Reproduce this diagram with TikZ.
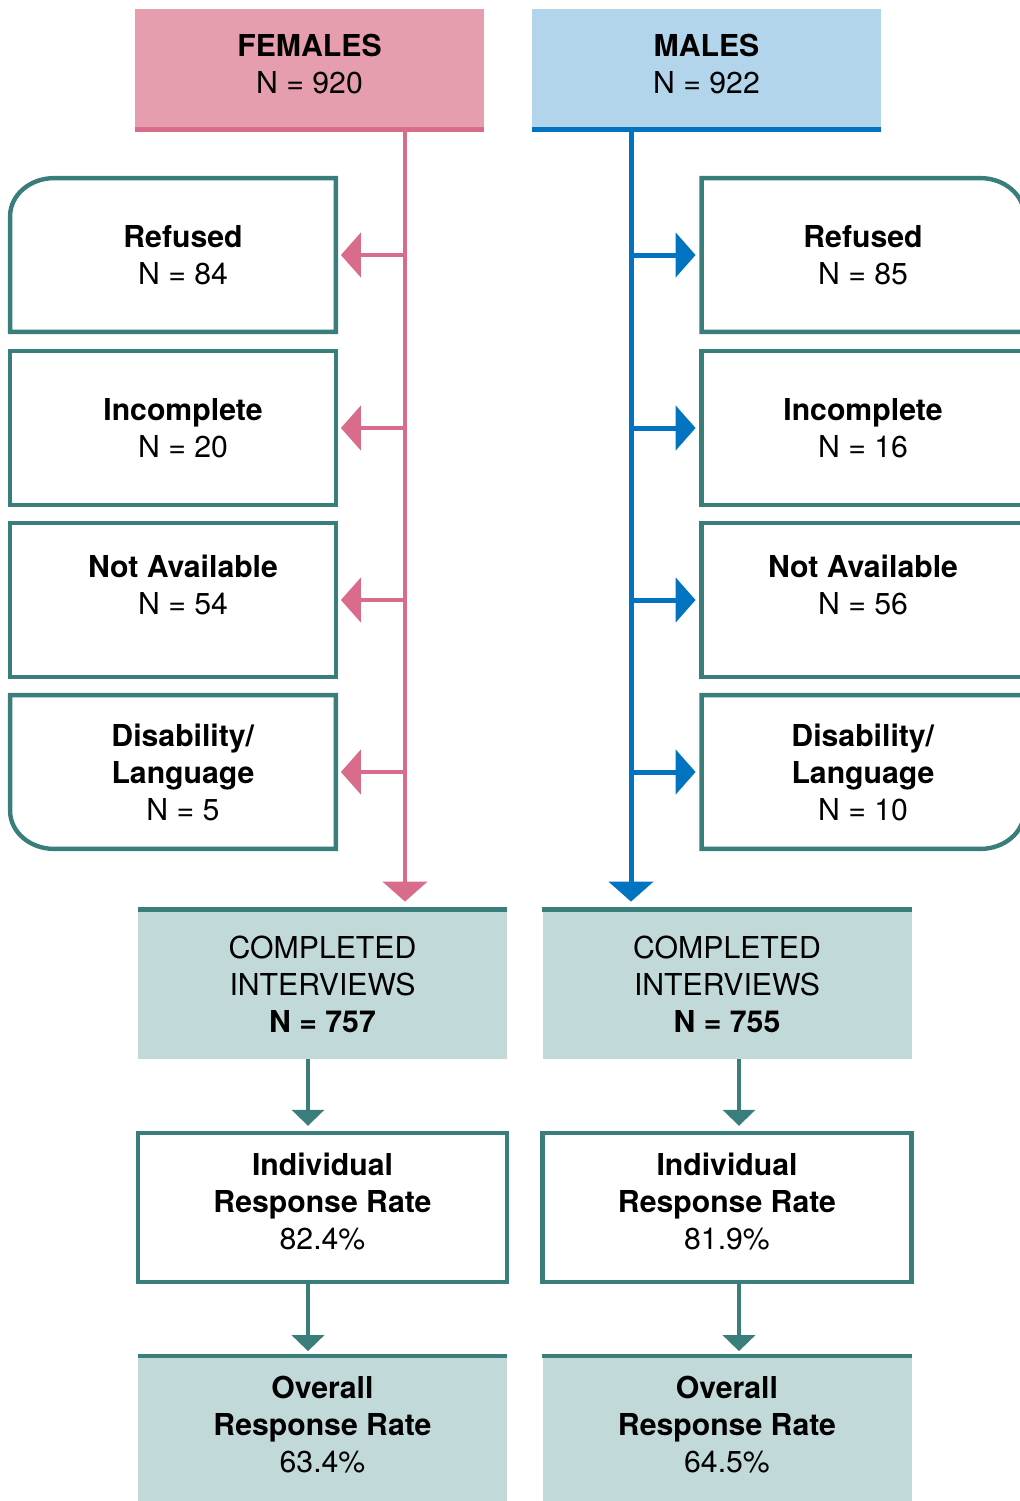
\documentclass[tikz,border=0pt]{standalone}
\usepackage{fontspec}
\setmainfont{TeX Gyre Heros}
\usetikzlibrary{arrows.meta}
\definecolor{fempink}{HTML}{E69EAE}
\definecolor{femline}{HTML}{D96B8B}
\definecolor{malblue}{HTML}{B3D5EB}
\definecolor{malline}{HTML}{0273C0}
\definecolor{tealline}{HTML}{3A7E7B}
\definecolor{tealfill}{HTML}{C2D9DA}

\begin{document}
\begin{tikzpicture}[x=0.5pt,y=-0.5pt]
\useasboundingbox (0,0) rectangle (1020,1501);
		\begin{scope}
            [
                every node/.style={align=center, inner sep=0pt,
					font=\fontsize{15.1}{18.5}\selectfont},
				topbox/.style = {minimum width=174.5pt, minimum height=61.5pt, text depth=7pt},
				leftbox/.style = {minimum width=152.5pt, minimum height=76.5pt},
				rightbox/.style = {minimum width=161pt, minimum height=76.5pt},
				resbox/.style = {minimum width=184.5pt, minimum height=74.5pt},
				rateline/.style = {draw=tealline, line width=2.2pt}
            ]
            
			\node(fem)[topbox,fill=fempink] at (309.5,70.5) {\textbf{FEMALES}\\N = 920};
			\node(mal)[topbox,fill=malblue] at (706.5,70.5) {\textbf{MALES}\\N = 922};
			
			\node(fref)[leftbox] at (183,255) {\textbf{Refused}\\N = 84};
			\node(finc)[leftbox] at (183,428) {\textbf{Incomplete}\\N = 20};
			\node(fna)[leftbox,text depth=15pt] at (183,600) {\textbf{Not Available}\\N = 54};
			\node(fdis)[leftbox] at (183,772) {\textbf{Disability/}\\\textbf{Language}\\N = 5};

			\node(mref)[rightbox] at (863,255) {\textbf{Refused}\\N = 85};
			\node(minc)[rightbox] at (863,428) {\textbf{Incomplete}\\N = 16};
			\node(mna)[rightbox,text depth=15pt] at (863,600) {\textbf{Not Available}\\N = 56};
			\node(mdis)[rightbox] at (863,772) {\textbf{Disability/}\\\textbf{Language}\\N = 10};

			\node(fcomp)[resbox,fill=tealfill] at (322.5,984.5) {COMPLETED\\INTERVIEWS\\\textbf{N = 757}};
			\node(find)[resbox,rateline,text depth=6pt] at (322.5,1207.5) {\textbf{Individual}\\\textbf{Response Rate}\\82.4\%};
			\node(fover)[resbox,fill=tealfill,minimum height=72.25pt,text depth=4pt] at (322.5,1428.75) {\textbf{Overall}\\\textbf{Response Rate}\\63.4\%};

			\node(mcomp)[resbox,fill=tealfill] at (727,984.5) {COMPLETED\\INTERVIEWS\\\textbf{N = 755}};
			\node(mind)[resbox,rateline,text depth=6pt] at (727,1207.5) {\textbf{Individual}\\\textbf{Response Rate}\\81.9\%};
			\node(mover)[resbox,fill=tealfill,minimum height=72.25pt,text depth=4pt] at (727,1428.75) {\textbf{Overall}\\\textbf{Response Rate}\\64.5\%};

			\coordinate (ftop) at (405,132);
			\coordinate (mtop) at (631,132);
		\end{scope}
		\begin{scope}
            [>={Triangle[length=10pt,width=22pt]},
				boxline/.style = {draw=tealline, line width=2.2pt},
				femline/.style = {draw=femline, line width=2.4pt},
				malline/.style = {draw=malline, line width=2.5pt},
				rateline/.style = {draw=tealline, line width=2.2pt,
					-{Triangle[length=8pt,width=16pt]}, shorten >=2.5pt}
            ]
			% coloured strips under the headers and over the results
			\draw[femline,line width=2.5pt] ([yshift=1.25pt]fem.south west) -- ([yshift=1.25pt]fem.south east);
			\draw[malline] ([yshift=1.25pt]mal.south west) -- ([yshift=1.25pt]mal.south east);
			\foreach \n in {fcomp,fover,mcomp,mover}
				\draw[boxline] (\n.north west) -- (\n.north east);

			% outlines of the side boxes
			\draw[boxline] (fref.north east) -- ([xshift=12pt]fref.north west)
				arc[start angle=90,end angle=180,x radius=22pt,y radius=19pt] -- ([xshift=-10pt]fref.south west) -- (fref.south east) -- cycle;
			\draw[boxline] ([xshift=-10pt]finc.north west) rectangle (finc.south east);
			\draw[boxline] ([xshift=-10pt]fna.north west) rectangle (fna.south east);
			\draw[boxline] (fdis.north east) -- ([xshift=-10pt]fdis.north west) -- ([xshift=-10pt,yshift=19pt]fdis.south west)
				arc[start angle=180,end angle=270,x radius=22pt,y radius=19pt] -- (fdis.south east) -- cycle;

			\draw[boxline] (mref.north west) -- ([xshift=-22pt]mref.north east)
				arc[start angle=90,end angle=0,x radius=22pt,y radius=19pt] -- (mref.south east) -- (mref.south west) -- cycle;
			\draw[boxline] (minc.north west) rectangle (minc.south east);
			\draw[boxline] (mna.north west) rectangle (mna.south east);
			\draw[boxline] (mdis.north west) -- (mdis.north east) -- ([yshift=19pt]mdis.south east)
				arc[start angle=0,end angle=-90,x radius=22pt,y radius=19pt] -- (mdis.south west) -- cycle;

			% trunks
			\draw[femline,->,shorten >=4pt] (ftop) -- (ftop |- fcomp.north);
			\draw[malline,->,shorten >=4pt] (mtop) -- (mtop |- mcomp.north);
			\foreach \n in {fref,finc,fna,fdis}
				\draw[femline,->,shorten >=2.5pt] (ftop |- \n) -- (\n.east);
			\foreach \n in {mref,minc,mna,mdis}
				\draw[malline,->,shorten >=3pt] (mtop |- \n) -- (\n.west);

			% results
			\draw[rateline] ([xshift=-7.25pt]fcomp.south) -- ([xshift=-7.25pt]find.north);
			\draw[rateline] ([xshift=-7.25pt]find.south) -- ([xshift=-7.25pt]fover.north);
			\draw[rateline] ([xshift=6pt]mcomp.south) -- ([xshift=6pt]mind.north);
			\draw[rateline] ([xshift=6pt]mind.south) -- ([xshift=6pt]mover.north);
		\end{scope}
    \end{tikzpicture}
\end{document}
